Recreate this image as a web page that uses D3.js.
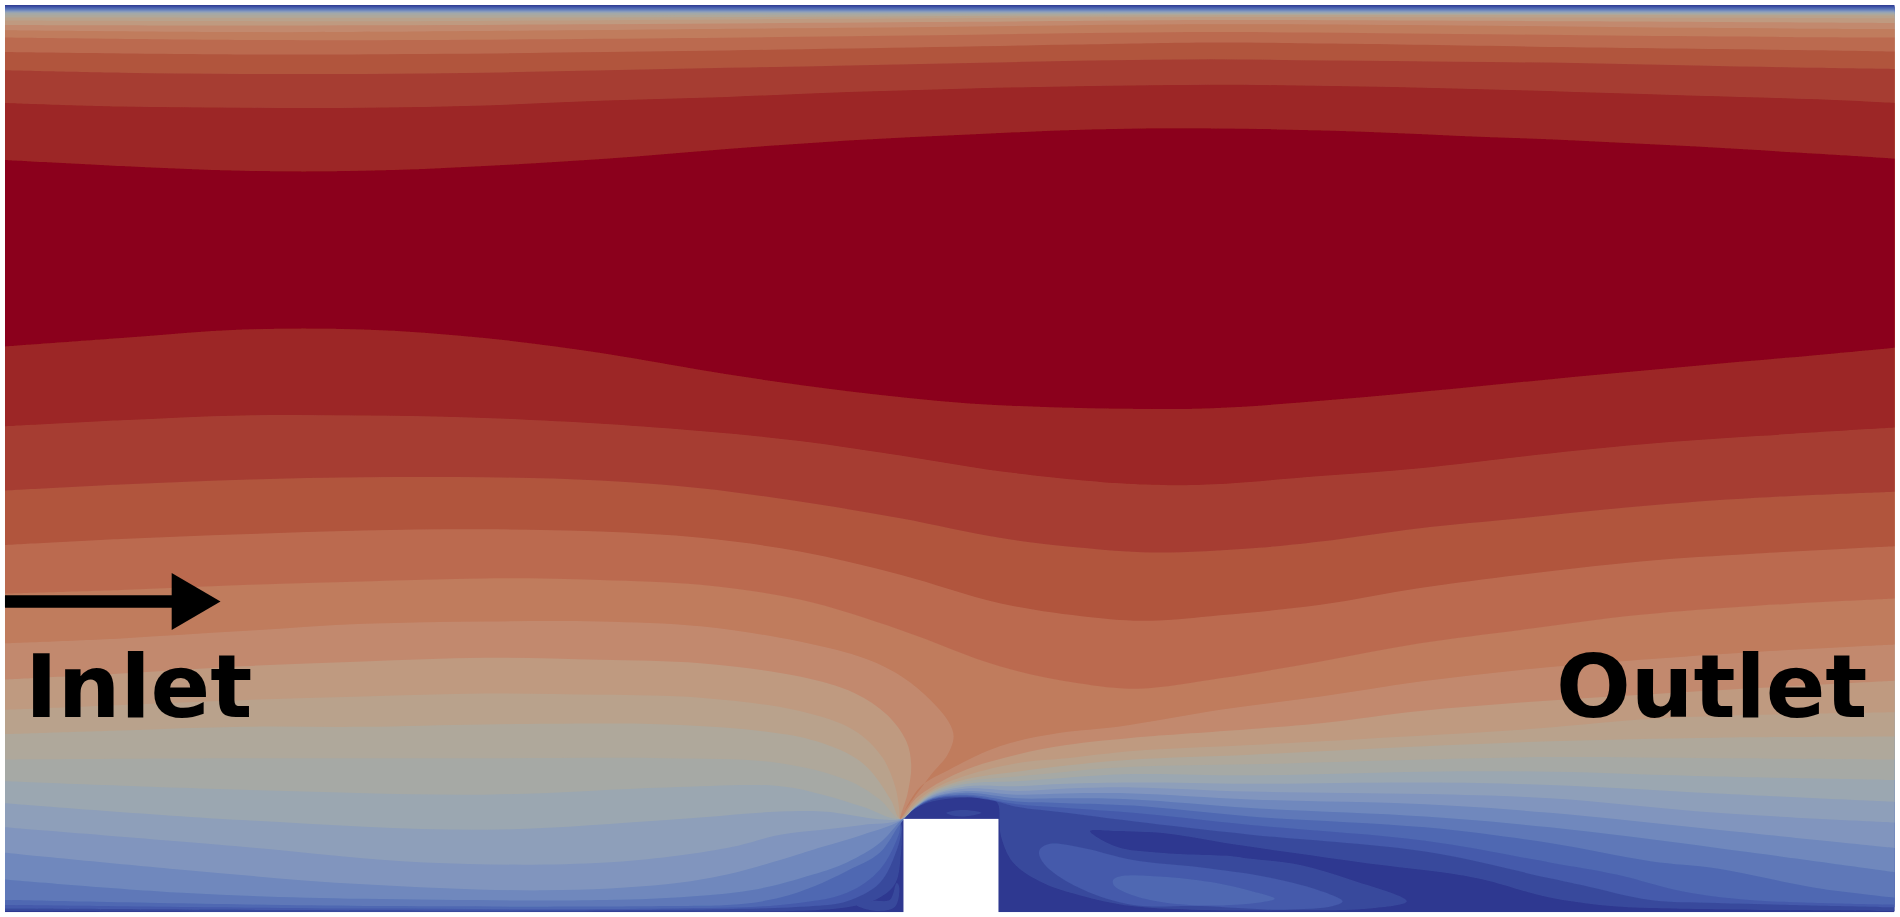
<!DOCTYPE html>
<html><head><meta charset="utf-8">
<style>html,body{margin:0;padding:0;background:#fff;overflow:hidden}svg{display:block}</style>
<script src="https://cdn.jsdelivr.net/npm/d3@7"></script></head><body>
<svg id="c" width="1900" height="917"></svg>
<script>
// Band colours, core outward
const bandColors=["#8b001a","#9c2626","#a63e33","#b1553e","#bb6b50","#c07b5d","#c2896e","#bf9a80","#b9a28c","#afa89b","#a6a9a5","#9ba7b1","#8e9fba","#8195be","#6f88bd","#5e78b8","#4f68b2","#445aab","#394a9c"];
const backgroundBand="#2e3890";
const labels=["Inlet","Outlet"];
// Upper boundary of each band
const upper0=[[4,132],[100,137],[200,141],[300,141],[400,137],[500,131],[600,123],[700,116],[800,111],[900,107],[1000,106],[1100,108],[1200,112],[1300,116],[1400,121],[1500,127],[1564,131]];
const upper1=[[4,85],[100,88],[200,89],[300,89],[400,87],[500,83],[600,80],[700,76],[800,73],[900,71],[1000,70],[1100,71],[1200,73],[1300,76],[1400,79],[1500,82],[1564,85]];
const upper2=[[4,58],[100,60],[200,61],[300,61],[400,60],[500,58],[600,56],[700,54],[800,52],[900,50],[1000,49],[1100,50],[1200,51],[1300,52],[1400,54],[1500,56],[1564,57]];
const upper3=[[4,43],[200,45],[350,44.5],[500,43],[700,40],[900,36.5],[1000,35],[1100,36],[1300,39],[1500,41.5],[1564,42.6]];
const upper4=[[4,31],[200,33],[350,33],[500,32],[700,30],[1000,26.5],[1200,28],[1400,30],[1564,31]];
const upper5=[[4,25],[200,26.5],[350,26],[700,23],[1000,20],[1200,21],[1400,23],[1564,24]];
const upper6=[[4,20.6],[200,21],[500,20],[800,18],[1000,16.5],[1300,17.5],[1564,19]];
const upper7=[[4,17],[300,17.5],[700,15.5],[1000,14],[1300,14.5],[1564,15]];
const upper8=[[4,14.5],[500,14.5],[1000,12.5],[1564,12.8]];
const upper9=[[4,12.5],[500,12.5],[1000,11.5],[1564,11.8]];
const upper10=[[4,11],[1564,11]];
const upper11=[[4,10.2],[1564,10.2]];
const upper12=[[4,9.5],[1564,9.5]];
const upper13=[[4,8.8],[1564,8.8]];
const upper14=[[4,8],[1564,8]];
const upper15=[[4,7.2],[1564,7.2]];
const upper16=[[4,6.5],[1564,6.5]];
const upper17=[[4,5.5],[1564,5.5]];
const upper18=[[4,4.6],[1564,4.6]];
// Lower boundary of each band
const lower0=[[4,286],[100,279],[200,272],[300,272],[400,279],[500,292],[600,309],[700,323],[800,333],[900,337],[1000,337],[1100,330],[1200,321],[1300,311],[1400,302],[1500,293],[1564,287]];
const lower1=[[4,352],[100,347],[200,343],[300,343],[400,345],[500,350],[580,356],[660,364],[743,376],[825,389],[924,399],[965,400.5],[1007,399.5],[1090,393],[1172,386.5],[1255,377],[1354,367],[1450,360],[1564,353]];
const lower2=[[4,405],[100,400],[200,396],[300,394],[400,394],[495,396.7],[578,403],[660,414],[743,427.8],[825,444],[890,452],[950,456],[1034,452.5],[1090,447],[1172,436],[1255,427.8],[1354,418],[1450,411],[1564,406]];
const lower3=[[4,450],[100,445],[200,441],[300,438],[400,437],[495,438.8],[578,444],[660,455.3],[743,474.5],[825,498],[900,509.5],[950,512.5],[1007,508],[1090,499.3],[1172,485.5],[1255,474.5],[1354,463.5],[1450,457],[1564,451]];
const lower4=[[4,490],[100,487],[200,483],[300,480],[400,477.5],[495,478.7],[578,482.8],[660,495],[743,520],[825,550],[890,564],[940,568.5],[1007,560],[1090,546],[1172,531],[1255,520],[1354,507.5],[1450,500],[1564,494]];
const lower5=[[4,531],[100,527],[200,521],[300,515],[400,513],[495,513],[578,517],[660,529.6],[715,544],[745,559],[768,578],[783,596],[787,608],[782,623],[768,640],[745,672],[743,676],[759,650],[784,635],[825,616],[875,605],[924,599.7],[1007,586],[1090,575],[1172,562.6],[1255,553],[1354,544.7],[1450,538],[1564,532]];
const lower6=[[4,561],[100,556],[200,550],[300,546],[400,543],[495,544.7],[578,547.6],[660,558.5],[705,572],[732,590],[748,612],[752,632],[749,655],[743,676],[756,659],[770,649],[798,635],[839,623],[880,615],[935,609],[960,607],[1090,597],[1172,587],[1255,580],[1354,573.6],[1450,568],[1564,562]];
const lower7=[[4,586],[100,582],[200,578],[300,575],[400,572.5],[495,573.6],[578,576],[660,587],[705,603],[728,625],[739,650],[742,667],[743,676],[756,662],[770,651.5],[798,640],[839,630],[880,626],[935,620],[1032,615],[1125,610],[1255,602.5],[1354,594],[1417,591],[1564,588]];
const lower8=[[4,606],[100,603],[200,600],[300,600],[400,598],[550,598],[633,604],[674,612],[712,630],[735,660],[743,676],[756,664],[770,653],[798,643],[839,637],[880,632],[935,627],[1032,623],[1176,616],[1279,612],[1417,609],[1564,608]];
const lower9=[[4,627],[200,626],[400,626],[550,626],[644,630],[699,644],[726,660],[743,676],[756,664.5],[770,654],[798,645],[839,641],[880,637],[935,633],[1032,631],[1176,627],[1279,625],[1417,626],[1564,627]];
const lower10=[[4,645],[200,652],[400,656],[550,650],[644,649],[679,656],[712,666],[743,676],[756,665],[770,655],[798,647],[839,645],[880,642],[935,639],[1032,640],[1176,637],[1279,637],[1417,641],[1564,644]];
const lower11=[[4,663],[200,677],[400,685],[550,677],[644,670],[679,670],[743,676],[756,665.5],[770,656],[798,649],[839,649],[880,647],[935,646],[1032,647],[1176,646],[1279,648],[1417,655],[1564,662]];
const lower12=[[4,683],[200,699],[350,712],[500,712],[600,700],[644,689],[679,685],[712,681],[743,677],[756,665.8],[770,657],[798,651],[839,653],[880,651],[935,650],[1032,653.5],[1176,655.5],[1279,659],[1417,671],[1564,679]];
const lower13=[[4,704],[150,718],[300,730],[450,735],[550,730],[600,722],[650,708],[679,699],[712,689],[743,677.5],[756,666],[770,658],[798,653],[839,656],[880,655],[935,655],[1032,660],[1176,664],[1279,671],[1417,685],[1564,700]];
const lower14=[[4,726],[150,737],[300,742],[500,743],[570,740],[625,734],[671,722],[699,712],[726,696],[743,678],[756,666.2],[770,658.5],[798,654.5],[839,659],[880,659],[935,660],[1032,667],[1176,674],[1279,683],[1417,700],[1564,720]];
const lower15=[[4,743],[300,748],[550,748],[610,746.5],[644,741],[671,732],[699,719],[726,704],[743,680],[756,666.5],[770,659],[798,656],[839,661.6],[880,663],[935,665],[1032,674],[1176,683],[1279,696],[1362,711],[1417,717],[1499,733],[1564,741]];
const lower16=[[4,747],[300,750],[550,750],[644,747],[699,737],[726,718],[742,688],[744,677],[756,666.8],[770,659.5],[798,657],[839,664],[880,667],[935,671],[1032,681],[1176,694],[1279,712],[1334,722],[1389,736],[1444,743],[1564,747]];
const lower17=[[4,750],[500,751.5],[671,748],[699,744],[726,729],[741,699],[744,685],[744,677],[756,667],[770,660],[798,658],[824,662],[839,666],[880,671],[935,678],[1032,689],[1176,703],[1279,725],[1307,731],[1362,743],[1417,745.5],[1564,749]];
const lower18=[[4,752],[500,752.5],[699,749],[726,741],[739,729],[743.5,705],[744.5,685],[744.5,676],[756,667],[770,661.5],[792,658.6],[820,659.7],[824,664.6],[825,678],[826,690],[836,712],[861,729],[891,739],[934,748],[984,751],[1060,751.5],[1130,750],[1161,744],[1114,726],[1073,714],[1032,709],[1018,707],[957,704],[921.5,699],[899.6,686],[921,686],[963,688],[1018,697],[1067,704],[1128,712.6],[1197,721],[1224,726],[1279,741],[1320,747],[1362,749.5],[1564,752]];
// Recirculation islands
const islandOuter=[[858,701.5],[866.5,696.6],[894,700],[935,710],[990,716],[1045,724],[1087,734.5],[1108,744],[1100,748],[1059,751],[990,748],[935,747],[894,734.5],[866.5,718],[858,707]];
const islandInner=[[918.7,726.3],[927,723],[963,724],[1004,729],[1034,736],[1052,742],[1040,745],[990,747.5],[949,743],[927,736],[919,730.5]];
const patchWall=[[707,747],[720.5,743.7],[734.5,742.8],[740,729],[742,732],[738.6,748.5],[723.7,752],[710,749]];
const patchRoof=[[781,671],[795,668.6],[810,671],[795,674],[784,672.6]];
// Domain and obstacle, in the same picture units
const domainX=[4.1,1563.5], domainY=[4.1,753];
const obstacleX=[745.6,824], obstacleY=[676,753];
const arrowShaft=[[4.1,496.5],[142,496.5]];
const arrowHead=[[141.7,473],[182,496.5],[141.7,520]];

const upperContours=[upper0,upper1,upper2,upper3,upper4,upper5,upper6,upper7,upper8,upper9,upper10,upper11,upper12,upper13,upper14,upper15,upper16,upper17,upper18];
const lowerContours=[lower0,lower1,lower2,lower3,lower4,lower5,lower6,lower7,lower8,lower9,lower10,lower11,lower12,lower13,lower14,lower15,lower16,lower17,lower18];

const x=d3.scaleLinear().domain([0,1568]).range([0,1900]);
const y=d3.scaleLinear().domain([0,757]).range([0,917]);
const svg=d3.select("#c");
const line=d3.line().x(d=>x(d[0])).y(d=>y(d[1])).curve(d3.curveCatmullRom.alpha(0.5));
const closed=d3.line().x(d=>x(d[0])).y(d=>y(d[1])).curve(d3.curveCatmullRomClosed.alpha(0.5));
const defs=svg.append("defs");
defs.append("clipPath").attr("id","dom").append("rect")
  .attr("x",x(domainX[0])).attr("y",y(domainY[0]))
  .attr("width",x(domainX[1])-x(domainX[0])).attr("height",y(domainY[1])-y(domainY[0]));
defs.append("filter").attr("id","soft").attr("x","-2%").attr("y","-2%").attr("width","104%").attr("height","104%")
  .append("feGaussianBlur").attr("stdDeviation",0.7);
const blurred=svg.append("g").attr("filter","url(#soft)");
const g=blurred.append("g").attr("clip-path","url(#dom)");
g.append("rect").attr("x",x(domainX[0])).attr("y",y(domainY[0]))
  .attr("width",x(domainX[1])-x(domainX[0])).attr("height",y(domainY[1])-y(domainY[0])).attr("fill",backgroundBand);
const order=d3.range(bandColors.length).reverse();
g.selectAll("path.band").data(order).join("path").attr("class","band")
  .attr("fill",k=>bandColors[k])
  .attr("d",k=>{
    const up=upperContours[k], low=lowerContours[k].slice().reverse();
    return line(up)+"L"+line(low).slice(1)+"Z";
  });
const blobs=[[patchWall,18],[patchRoof,18],[islandOuter,17],[islandInner,16]];
g.selectAll("path.blob").data(blobs).join("path").attr("class","blob")
  .attr("fill",d=>bandColors[d[1]]).attr("d",d=>closed(d[0]));
blurred.append("rect").attr("x",x(obstacleX[0])).attr("y",y(obstacleY[0]))
  .attr("width",x(obstacleX[1])-x(obstacleX[0])).attr("height",y(obstacleY[1])-y(obstacleY[0])+2).attr("fill","#fff");
// annotations
const straight=d3.line().x(d=>x(d[0])).y(d=>y(d[1]));
svg.append("path").attr("d",straight(arrowShaft)).attr("stroke","#000").attr("stroke-width",12.5).attr("fill","none");
svg.append("path").attr("d",straight(arrowHead)+"Z").attr("fill","#000");
svg.selectAll("text").data(labels).join("text")
  .attr("x",(d,i)=>i?1556:25).attr("y",717)
  .attr("font-family","DejaVu Sans").attr("font-weight","bold").attr("font-size",88).attr("fill","#000")
  .text(d=>d);
</script></body></html>
